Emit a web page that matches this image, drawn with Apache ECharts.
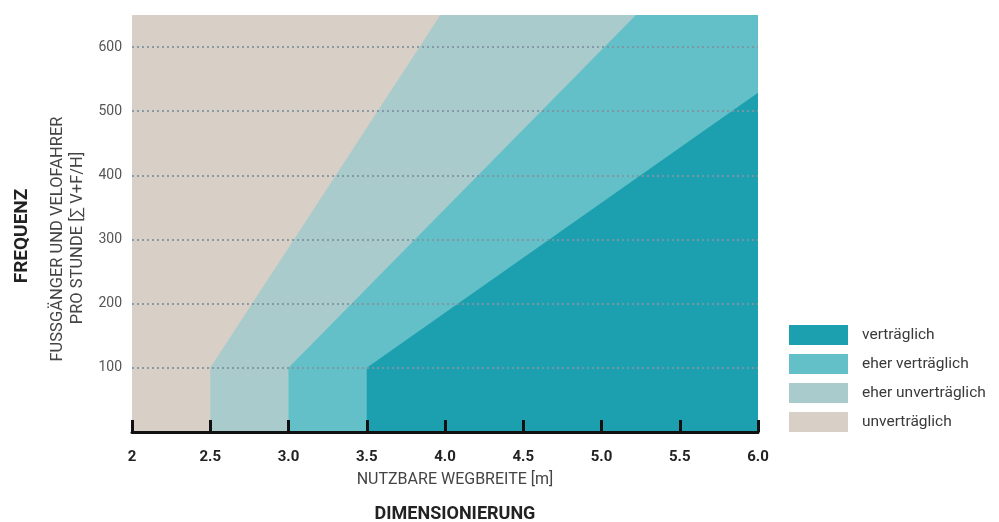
<!DOCTYPE html>
<html>
<head>
<meta charset="utf-8">
<script src="https://cdn.jsdelivr.net/npm/echarts@6/dist/echarts.min.js"></script>
<style>
html,body{margin:0;padding:0;background:#fff;}
#c{width:999px;height:522px;}
</style>
</head>
<body>
<div id="c"></div>
<script>
// ---- data ----
const legendOrder = ['verträglich', 'eher verträglich', 'eher unverträglich', 'unverträglich'];
const zoneUnvertraeglich = [[2, 650], [6, 650]];
const zoneEherUnvertraeglich = [[2.5, 0], [2.5, 100], [3.97, 650], [6, 650]];
const zoneEherVertraeglich = [[3.0, 0], [3.0, 100], [5.22, 650], [6, 650]];
const zoneVertraeglich = [[3.5, 0], [3.5, 100], [6.0, 529]];
const gridValues = [100, 200, 300, 400, 500, 600];
const xTickLabels = {2: '2', 2.5: '2.5', 3: '3.0', 3.5: '3.5', 4: '4.0', 4.5: '4.5', 5: '5.0', 5.5: '5.5', 6: '6.0'};

const colors = {
  'unverträglich': '#d8d0c7',
  'eher unverträglich': '#aacbcb',
  'eher verträglich': '#63c0c9',
  'verträglich': '#1c9fae'
};
const FONT = 'Roboto, "DejaVu Sans", sans-serif';

function zone(name, data, extra) {
  return Object.assign({
    name: name,
    type: 'line',
    data: data,
    showSymbol: false,
    symbol: 'none',
    silent: true,
    lineStyle: {width: 0, color: colors[name]},
    itemStyle: {color: colors[name]},
    areaStyle: {color: colors[name], opacity: 1}
  }, extra || {});
}

const chart = echarts.init(document.getElementById('c'), null, {renderer: 'canvas'});
chart.setOption({
  animation: false,
  backgroundColor: '#ffffff',
  grid: {left: 132, right: 241, top: 15, bottom: 90, containLabel: false},
  legend: {
    data: legendOrder,
    orient: 'vertical',
    left: 789,
    top: 325,
    padding: 0,
    itemWidth: 59,
    itemHeight: 20,
    itemGap: 9,
    icon: 'rect',
    selectedMode: false,
    textStyle: {fontFamily: FONT, fontSize: 15.5, color: '#3a3a3a', padding: [0, 0, 0, 9]}
  },
  xAxis: {
    type: 'value',
    min: 2, max: 6, interval: 0.5,
    z: 10,
    axisLine: {show: true, lineStyle: {color: '#111', width: 3}},
    axisTick: {show: true, inside: true, length: 12, lineStyle: {color: '#111', width: 3}},
    splitLine: {show: false},
    axisLabel: {
      margin: 18,
      fontFamily: FONT, fontSize: 15, fontWeight: 'bold', color: '#222',
      formatter: function (v) { return xTickLabels[v] !== undefined ? xTickLabels[v] : ''; }
    }
  },
  yAxis: {
    type: 'value',
    min: 0, max: 650, interval: 100,
    axisLine: {show: false},
    axisTick: {show: false},
    splitLine: {show: false},
    axisLabel: {
      margin: 10,
      fontFamily: FONT, fontSize: 14, color: '#555',
      formatter: function (v) { return gridValues.indexOf(v) >= 0 ? String(v) : ''; }
    }
  },
  series: [
    zone('unverträglich', zoneUnvertraeglich),
    zone('eher unverträglich', zoneEherUnvertraeglich),
    zone('eher verträglich', zoneEherVertraeglich),
    zone('verträglich', zoneVertraeglich, {
      markLine: {
        silent: true,
        symbol: 'none',
        label: {show: false},
        lineStyle: {type: [2, 3], color: '#7f95a2', width: 2, opacity: 0.9},
        data: gridValues.map(function (v) { return {yAxis: v}; })
      }
    })
  ],
  graphic: [
    {
      type: 'text', x: 455, y: 480,
      style: {text: 'NUTZBARE WEGBREITE [m]', fontFamily: FONT, fontSize: 16, fill: '#444',
        textAlign: 'center', textVerticalAlign: 'middle'}
    },
    {
      type: 'text', x: 455, y: 514,
      style: {text: 'DIMENSIONIERUNG', fontFamily: FONT, fontSize: 18, fontWeight: 'bold', fill: '#222',
        textAlign: 'center', textVerticalAlign: 'middle'}
    },
    {
      type: 'text', x: 22, y: 236, rotation: Math.PI / 2,
      style: {text: 'FREQUENZ', fontFamily: FONT, fontSize: 19, fontWeight: 'bold', fill: '#222',
        textAlign: 'center', textVerticalAlign: 'middle'}
    },
    {
      type: 'text', x: 58, y: 239, rotation: Math.PI / 2,
      style: {text: 'FUSSGÄNGER UND VELOFAHRER', fontFamily: FONT, fontSize: 16.5, fill: '#444',
        textAlign: 'center', textVerticalAlign: 'middle'}
    },
    {
      type: 'text', x: 78, y: 238, rotation: Math.PI / 2,
      style: {text: 'PRO STUNDE [∑ V+F/H]', fontFamily: FONT, fontSize: 16.5, fill: '#444',
        textAlign: 'center', textVerticalAlign: 'middle'}
    }
  ]
});
</script>
</body>
</html>
